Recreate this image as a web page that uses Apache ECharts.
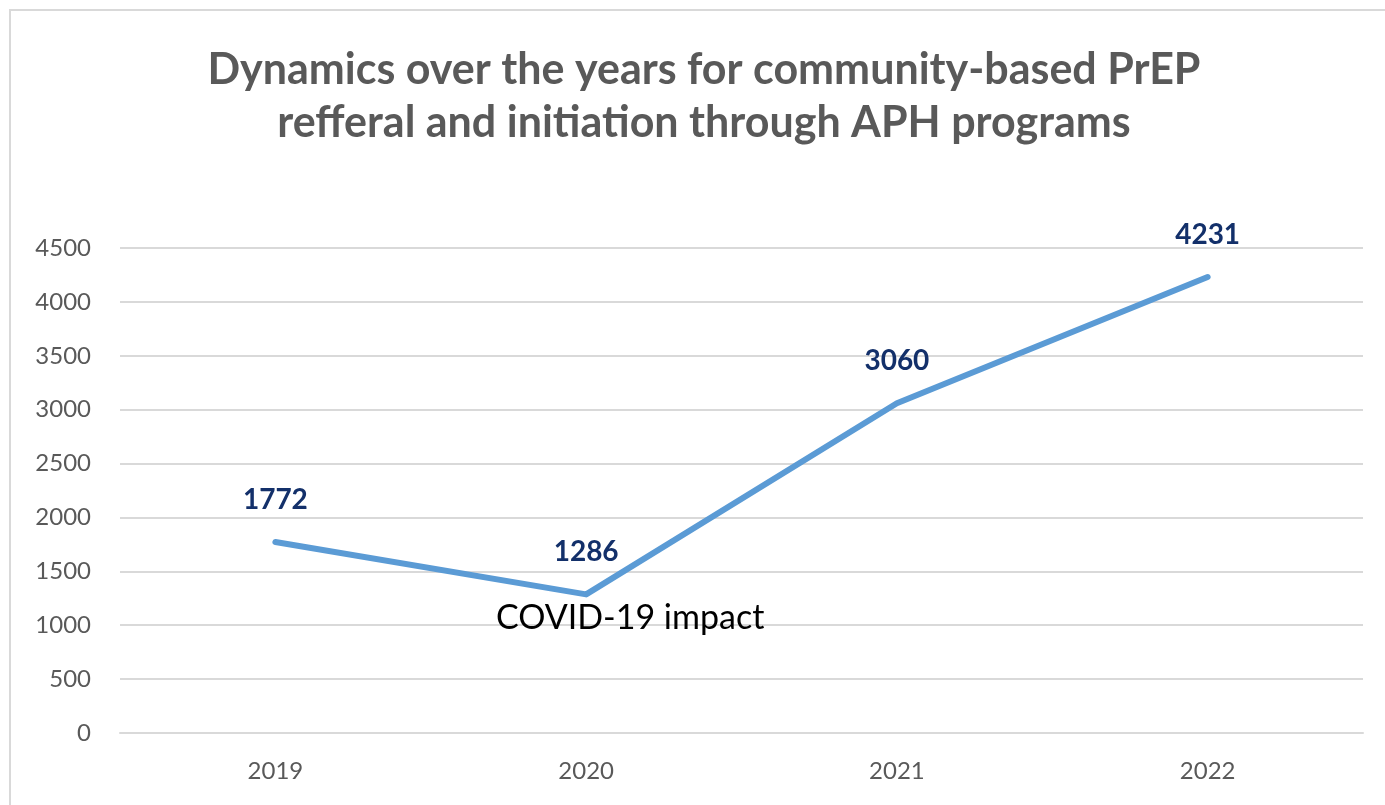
<!DOCTYPE html>
<html>
<head>
<meta charset="utf-8">
<script src="https://cdn.jsdelivr.net/npm/echarts@6/dist/echarts.min.js"></script>
<style>html,body{margin:0;padding:0;background:#fff;}#c{width:1385px;height:805px;}</style>
</head>
<body>
<div id="c"></div>
<script>
var titleText = 'Dynamics over the years for community-based PrEP\nrefferal and initiation through APH programs';
var years = ['2019', '2020', '2021', '2022'];
var values = [1772, 1286, 3060, 4231];
var noteText = 'COVID-19 impact';
var noteYear = '2020';
var noteValue = 1286;

var chart = echarts.init(document.getElementById('c'));
chart.setOption({
  backgroundColor: '#ffffff',
  animation: false,
  title: {
    text: titleText,
    left: 699,
    top: 39,
    textAlign: 'center',
    textStyle: {
      fontFamily: 'Lato',
      fontWeight: 'bold',
      fontSize: 43,
      lineHeight: 53,
      color: '#595959'
    }
  },
  graphic: [{
    type: 'rect',
    shape: { x: 10, y: 10, width: 1400, height: 820 },
    style: { fill: 'none', stroke: '#d9d9d9', lineWidth: 2 },
    silent: true
  }],
  grid: { left: 120, right: 22, top: 248, bottom: 72 },
  xAxis: {
    type: 'category',
    data: years,
    boundaryGap: true,
    axisLine: { lineStyle: { color: '#d9d9d9', width: 2 } },
    axisTick: { show: false },
    axisLabel: { color: '#595959', fontFamily: 'Lato', fontSize: 24, margin: 26 }
  },
  yAxis: {
    type: 'value',
    min: 0,
    max: 4500,
    interval: 500,
    axisLine: { show: false },
    axisTick: { show: false },
    axisLabel: { color: '#595959', fontFamily: 'Lato', fontSize: 24, margin: 29, formatter: function (v) { return String(v); } },
    splitLine: { lineStyle: { color: '#d9d9d9', width: 2 } }
  },
  series: [{
    type: 'line',
    data: values,
    symbol: 'circle',
    symbolSize: 1,
    showSymbol: true,
    itemStyle: { color: '#5B9BD5' },
    lineStyle: { color: '#5B9BD5', width: 6, cap: 'round', join: 'round' },
    label: {
      show: true,
      position: 'top',
      distance: 28,
      color: '#13306a',
      fontFamily: 'Lato',
      fontWeight: 'bold',
      fontSize: 28
    },
    markPoint: {
      symbol: 'circle',
      symbolSize: 0,
      data: [{ coord: [noteYear, noteValue] }],
      label: {
        show: true,
        formatter: noteText,
        position: 'inside',
        offset: [44, 24],
        color: '#000000',
        fontFamily: 'Lato',
        fontSize: 34
      }
    }
  }]
});
</script>
</body>
</html>
